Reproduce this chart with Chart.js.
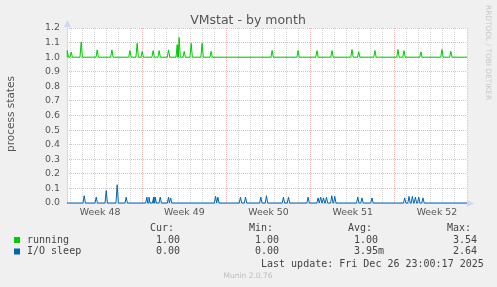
<!DOCTYPE html>
<html>
<head>
<meta charset="utf-8">
<title>VMstat - by month</title>
<script src="https://cdn.jsdelivr.net/npm/chart.js@4.4.1/dist/chart.umd.min.js"></script>
<style>
  html, body { margin: 0; padding: 0; background: #f0f0f0; }
  canvas { display: block; }
</style>
</head>
<body>
<canvas id="vmstatChart" width="497" height="287"></canvas>
<script>
// 📅 Time axis: days since Mon Dec 1 00:00 (start of week 49)
const xStart = -6.25;
const xEnd = 27.0;
const weekLabels = ["Week 48", "Week 49", "Week 50", "Week 51", "Week 52"];
const weekCenters = [-3.5, 3.5, 10.5, 17.5, 24.5];
const yTicks = [0, 0.1, 0.2, 0.3, 0.4, 0.5, 0.6, 0.7, 0.8, 0.9, 1.0, 1.1, 1.2];

// 🟢 running: flat at 1.0 with short spikes
const runningBase = 1.0;
const runningDays = [-6.23, -5.90, -5.07, -3.74, -2.52, -1.02, -0.42, 0.0, 0.91, 1.41, 2.19, 2.91, 3.07,
  3.49, 4.07, 4.98, 5.73, 10.80, 12.96, 14.53, 15.78, 17.44, 18.00, 19.35, 21.26, 21.76, 23.17, 24.92, 25.66];
const runningPeaks = [1.045, 1.035, 1.105, 1.05, 1.05, 1.045, 1.095, 1.04, 1.045, 1.045, 1.05, 1.085, 1.135,
  1.04, 1.095, 1.095, 1.04, 1.046, 1.045, 1.045, 1.045, 1.053, 1.037, 1.045, 1.053, 1.045, 1.037, 1.053, 1.04];

// 🔵 I/O sleep: flat at 0 with short spikes
const ioSleepBase = 0.0;
const ioSleepDays = [-4.82, -3.82, -2.99, -2.08, -1.33, 0.39, 0.56, 0.95, 1.08, 1.50, 2.19, 2.36, 6.10, 6.29,
  8.17, 8.59, 9.86, 10.33, 11.74, 12.16, 13.79, 14.62, 14.84, 15.07, 15.32, 15.76, 16.01, 17.92, 18.27, 19.10,
  21.82, 22.18, 22.46, 22.71, 22.99, 23.34];
const ioSleepPeaks = [0.05, 0.04, 0.085, 0.125, 0.04, 0.04, 0.04, 0.04, 0.04, 0.04, 0.04, 0.035, 0.045, 0.04,
  0.04, 0.04, 0.04, 0.05, 0.04, 0.04, 0.04, 0.035, 0.04, 0.035, 0.04, 0.05, 0.045, 0.04, 0.035, 0.035,
  0.035, 0.045, 0.045, 0.04, 0.04, 0.035];

// 🏷️ Legend table
const legendNames = ["running", "I/O sleep"];
const legendColors = ["#00cc00", "#0066b3"];
const legendCur = ["1.00", "0.00"];
const legendMin = ["1.00", "0.00"];
const legendAvg = ["1.00", "3.95m"];
const legendMax = ["3.54", "2.64"];
const lastUpdate = "Last update: Fri Dec 26 23:00:17 2025";


function spikes(days, peaks, base) {
  const pts = [{ x: xStart, y: base }, { x: xEnd, y: base }];
  days.forEach((d, i) => {
    pts.push({ x: d - 0.1, y: base }, { x: d, y: peaks[i] }, { x: d + 0.1, y: base });
  });
  return pts.filter(p => p.x >= xStart && p.x <= xEnd).sort((a, b) => a.x - b.x);
}

const xTickValues = [];
for (let d = Math.ceil(xStart); d <= Math.floor(xEnd); d++) xTickValues.push(d);
weekCenters.forEach(c => xTickValues.push(c));
xTickValues.sort((a, b) => a - b);

const GRID_MINOR = "rgba(150,150,150,0.4)";
const GRID_MAJOR = "rgba(228,110,110,0.5)";
const FONT = "DejaVu Sans";
const MONO = "DejaVu Sans Mono";


// 🎨 Munin-style decorations
const muninDecor = {
  id: "muninDecor",
  beforeDraw(chart) {
    const { ctx, chartArea: a } = chart;
    ctx.save();
    ctx.fillStyle = "#f0f0f0";
    ctx.fillRect(0, 0, chart.width, chart.height);
    ctx.fillStyle = "#ffffff";
    ctx.fillRect(a.left, a.top, a.right - a.left, a.bottom - a.top);
    ctx.restore();
  },
  beforeDatasetsDraw(chart) {
    const { ctx, chartArea: a } = chart;
    ctx.save();
    ctx.strokeStyle = "#cfd6f8";
    ctx.fillStyle = "#cfd6f8";
    ctx.lineWidth = 1;
    ctx.beginPath();
    ctx.moveTo(a.left + 0.5, a.bottom);
    ctx.lineTo(a.left + 0.5, a.top - 3);
    ctx.moveTo(a.left, a.bottom + 0.5);
    ctx.lineTo(a.right + 3, a.bottom + 0.5);
    ctx.stroke();
    ctx.beginPath();
    ctx.moveTo(a.left + 0.5, a.top - 8);
    ctx.lineTo(a.left - 3, a.top - 1);
    ctx.lineTo(a.left + 4, a.top - 1);
    ctx.fill();
    ctx.beginPath();
    ctx.moveTo(a.right + 7, a.bottom + 0.5);
    ctx.lineTo(a.right, a.bottom - 3);
    ctx.lineTo(a.right, a.bottom + 4);
    ctx.fill();
    ctx.restore();
  },
  afterDraw(chart) {
    const { ctx } = chart;
    ctx.save();

    // title
    ctx.fillStyle = "#555";
    ctx.font = "12.5px " + FONT;
    ctx.textAlign = "center";
    ctx.textBaseline = "alphabetic";
    ctx.fillText("VMstat - by month", 248, 23.5);

    // vertical label
    ctx.save();
    ctx.translate(11, 114);
    ctx.rotate(-Math.PI / 2);
    ctx.font = "10.5px " + FONT;
    ctx.fillStyle = "#555";
    ctx.textBaseline = "middle";
    ctx.fillText("process states", 0, 0);
    ctx.restore();

    // rrdtool watermark
    ctx.save();
    ctx.translate(487.5, 5);
    ctx.rotate(Math.PI / 2);
    ctx.font = "7.4px " + FONT;
    ctx.fillStyle = "#c8c8c8";
    ctx.textAlign = "left";
    ctx.textBaseline = "middle";
    ctx.fillText("RRDTOOL / TOBI OETIKER", 0, 0);
    ctx.restore();

    // legend table
    ctx.font = "10px " + MONO;
    ctx.fillStyle = "#444";
    ctx.textAlign = "left";
    ctx.textBaseline = "middle";
    ctx.fillText("Cur:", 150, 228.5);
    ctx.fillText("Min:", 249, 228.5);
    ctx.fillText("Avg:", 348, 228.5);
    ctx.fillText("Max:", 447, 228.5);
    const rowY = [240, 251.5];
    legendNames.forEach((name, i) => {
      ctx.fillStyle = legendColors[i];
      ctx.fillRect(14, rowY[i] - 3, 6, 6);
      ctx.fillStyle = "#444";
      ctx.fillText(name, 27, rowY[i]);
      ctx.fillText(legendCur[i], 156, rowY[i]);
      ctx.fillText(legendMin[i], 255, rowY[i]);
      ctx.fillText(legendAvg[i], 354, rowY[i]);
      ctx.fillText(legendMax[i], 453, rowY[i]);
    });
    ctx.fillText(lastUpdate, 261, 264);

    ctx.font = "7.5px " + FONT;
    ctx.fillStyle = "#bbb";
    ctx.textAlign = "center";
    ctx.fillText("Munin 2.0.76", 248, 276.5);
    ctx.restore();
  }
};


const chart = new Chart(document.getElementById("vmstatChart").getContext("2d"), {
  type: "line",
  data: {
    datasets: [{
      label: "running",
      data: spikes(runningDays, runningPeaks, runningBase),
      borderColor: "#00cc00",
      borderWidth: 1,
      pointRadius: 0,
      tension: 0,
      fill: false,
      clip: 3
    }, {
      label: "I/O sleep",
      data: spikes(ioSleepDays, ioSleepPeaks, ioSleepBase),
      borderColor: "#0066b3",
      borderWidth: 1,
      pointRadius: 0,
      tension: 0,
      fill: false,
      clip: 3
    }]
  },
  options: {
    responsive: false,
    animation: false,
    devicePixelRatio: 1,
    layout: { padding: { left: 0, top: 28, right: 30, bottom: 64 } },
    plugins: { legend: { display: false }, title: { display: false }, tooltip: { enabled: false } },
    scales: {
      x: {
        type: "linear",
        min: xStart,
        max: xEnd,
        afterBuildTicks: (scale) => { scale.ticks = xTickValues.map(v => ({ value: v })); },
        afterFit: (scale) => { scale.height = 20; },
        ticks: {
          autoSkip: false,
          maxRotation: 0,
          padding: 4,
          color: "#555",
          font: { family: FONT, size: 9.4 },
          callback: (v) => {
            const i = weekCenters.indexOf(v);
            return i >= 0 ? weekLabels[i] : "";
          }
        },
        grid: {
          drawTicks: false,
          color: (c) => {
            const v = c.tick ? c.tick.value : 0.5;
            if (!Number.isInteger(v)) return "rgba(0,0,0,0)";
            return v % 7 === 0 ? GRID_MAJOR : GRID_MINOR;
          }
        },
        border: { display: false, dash: [1, 1] }
      },
      y: {
        min: 0,
        max: 1.2,
        afterBuildTicks: (scale) => { scale.ticks = yTicks.map(v => ({ value: v })); },
        afterFit: (scale) => { scale.width = 67; },
        ticks: {
          padding: 7,
          color: "#555",
          font: { family: FONT, size: 9.4 },
          callback: (v) => Number(v).toFixed(1)
        },
        grid: { drawTicks: false, color: GRID_MAJOR },
        border: { display: false, dash: [1, 1] }
      }
    }
  },
  plugins: [muninDecor]
});
</script>
</body>
</html>
